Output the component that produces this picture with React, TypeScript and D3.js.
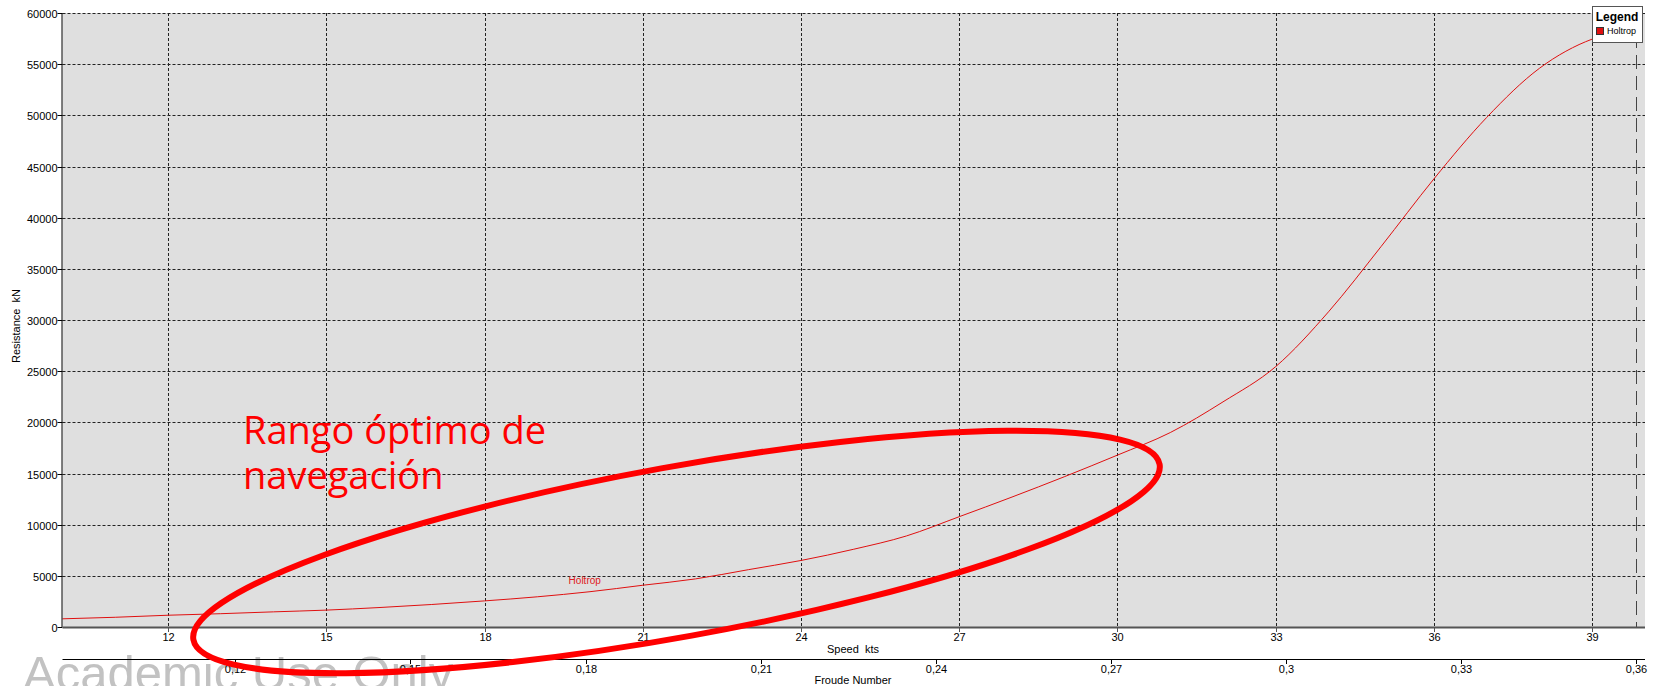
import React from 'react'
import * as d3 from 'd3'

// Holtrop resistance curve
const speedKts = [10, 11, 12, 13, 14, 15, 16, 17, 18, 19, 20, 21, 22, 23, 24, 25, 26, 27, 28, 29, 30, 31, 32, 33, 34, 35, 36, 37, 38, 39, 39.83]
const resistanceKN = [
  800, 950, 1150, 1300, 1480, 1650, 1900, 2200, 2550, 2950, 3450, 4080, 4700, 5600, 6500, 7600, 8900, 10780, 12700,
  14700, 16800, 19000, 22000, 25450, 30800, 37200, 43800, 49800, 54600, 57450, 58400,
]
const speedTicks = [12, 15, 18, 21, 24, 27, 30, 33, 36, 39]
const froudeTicks = [0.12, 0.15, 0.18, 0.21, 0.24, 0.27, 0.3, 0.33, 0.36]
const resistanceTicks = [0, 5000, 10000, 15000, 20000, 25000, 30000, 35000, 40000, 45000, 50000, 55000, 60000]
const seriesName = 'Holtrop'
const maxSpeed = 39.83
const froudeAtMax = 0.36

const W = 1656
const H = 686
const left = 62.5
const right = 1645
const top = 13
const bottom = 627
const froudeY = 659
const font = '"Liberation Sans", Arial, sans-serif'
const pre = { whiteSpace: 'pre' as const }

export default function App() {
  const x = d3.scaleLinear().domain([10, 40]).range([left, right])
  const y = d3.scaleLinear().domain([0, 60000]).range([bottom, top])
  const k = froudeAtMax / maxSpeed
  const fr = d3.scaleLinear().domain([10 * k, 40 * k]).range([left, right])

  const line = d3
    .line<number>()
    .x((d, i) => x(speedKts[i]))
    .y((d) => y(d))
    .curve(d3.curveMonotoneX)

  return (
    <svg width={W} height={H} style={{ position: 'absolute', left: 0, top: 0, background: '#fff' }}>
      <text x={23} y={690} fontFamily={font} fontSize={49} fill="#c2c2c2">
        Academic Use Only
      </text>

      <rect x={left} y={top} width={right - left} height={bottom - top} fill="#dfdfdf" />

      {/* grid */}
      {resistanceTicks
        .filter((t) => t > 0)
        .map((t) => (
          <line key={'gy' + t} x1={left} x2={right} y1={Math.round(y(t)) + 0.5} y2={Math.round(y(t)) + 0.5} stroke="#222" strokeDasharray="3 2" />
        ))}
      {speedTicks.map((t) => (
        <line key={'gx' + t} x1={Math.round(x(t)) + 0.5} x2={Math.round(x(t)) + 0.5} y1={top} y2={bottom} stroke="#222" strokeDasharray="3 2" />
      ))}
      <line x1={Math.round(x(maxSpeed)) + 0.5} x2={Math.round(x(maxSpeed)) + 0.5} y1={top} y2={bottom} stroke="#444" strokeDasharray="14 7" />

      {/* curve */}
      <path d={line(resistanceKN) || ''} fill="none" stroke="#e01010" strokeWidth={1} />
      <text x={x(19.9)} y={y(3900) - 3} fontFamily={font} fontSize={10} fill="#e02020" textAnchor="middle">
        {seriesName}
      </text>

      {/* y axis */}
      <line x1={left - 0.5} x2={left - 0.5} y1={top} y2={bottom} stroke="#000" />
      {resistanceTicks.map((t) => (
        <g key={'ty' + t} transform={`translate(0, ${Math.round(y(t)) + 0.5})`}>
          <line x1={left - 5} x2={left} stroke="#000" />
          <text x={left - 5} y={4} fontFamily={font} fontSize={11} textAnchor="end" fill="#000">
            {t}
          </text>
        </g>
      ))}
      <text transform={`translate(20, ${(top + bottom) / 2 + 6}) rotate(-90)`} fontFamily={font} fontSize={11} textAnchor="middle" fill="#000" style={pre}>
        {'Resistance  kN'}
      </text>

      {/* speed axis */}
      <line x1={left} x2={right} y1={bottom + 0.5} y2={bottom + 0.5} stroke="#555" strokeWidth={2} />
      {speedTicks.map((t) => (
        <g key={'tx' + t} transform={`translate(${Math.round(x(t)) + 0.5}, ${bottom})`}>
          <line y1={0} y2={5} stroke="#555" />
          <text y={14} fontFamily={font} fontSize={11} textAnchor="middle" fill="#000">
            {t}
          </text>
        </g>
      ))}
      <text x={853} y={653} fontFamily={font} fontSize={11} textAnchor="middle" fill="#000" style={pre}>
        {'Speed  kts'}
      </text>

      {/* froude axis */}
      <line x1={left} x2={right} y1={froudeY + 0.5} y2={froudeY + 0.5} stroke="#000" />
      {froudeTicks.map((t) => (
        <g key={'tf' + t} transform={`translate(${Math.round(fr(t)) + 0.5}, ${froudeY})`}>
          <line y1={0} y2={5} stroke="#000" />
          <text y={14} fontFamily={font} fontSize={11} textAnchor="middle" fill="#000">
            {String(t).replace('.', ',')}
          </text>
        </g>
      ))}
      <text x={853} y={684} fontFamily={font} fontSize={11} textAnchor="middle" fill="#000">
        Froude Number
      </text>

      {/* legend */}
      <rect x={1592.5} y={6.5} width={50} height={36} fill="#fff" stroke="#555" />
      <text x={1617} y={21} fontFamily={font} fontSize={12} fontWeight="bold" textAnchor="middle" fill="#000">
        Legend
      </text>
      <rect x={1596.5} y={27.5} width={7} height={7} fill="#e01010" stroke="#333" />
      <text x={1607} y={34} fontFamily={font} fontSize={9} fill="#000">
        {seriesName}
      </text>

      {/* annotation */}
      <ellipse cx={676.5} cy={552} rx={491} ry={85} transform="rotate(-10.3 676.5 552)" fill="none" stroke="#ff0000" strokeWidth={6} />
      <text fontFamily='"Open Sans", "Noto Sans", sans-serif' fontSize={38} fill="#ff0000">
        <tspan x={243} y={444}>Rango óptimo de</tspan>
        <tspan x={243} y={489}>navegación</tspan>
      </text>
    </svg>
  )
}
